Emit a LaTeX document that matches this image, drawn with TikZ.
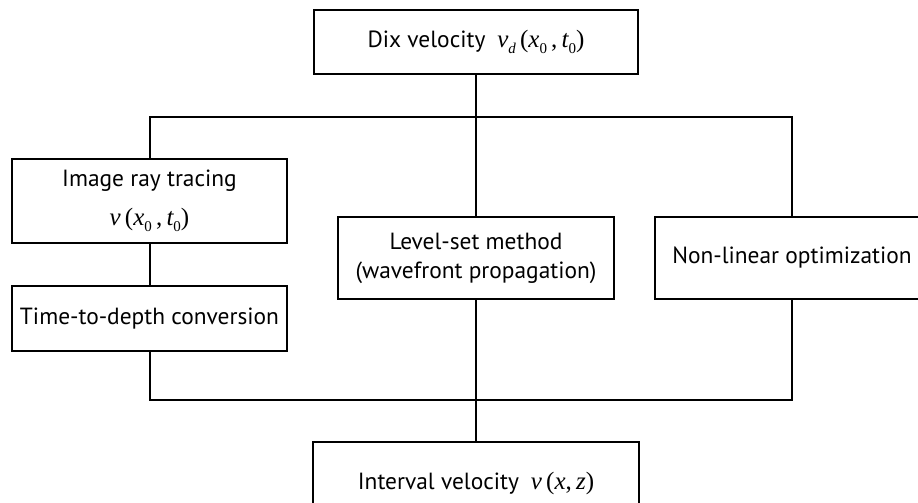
\documentclass[tikz,border=0pt]{standalone}
\usepackage{fontspec}
\setmainfont{PT Sans}
\newfontfamily\tms{Liberation Serif}
\newcommand{\iv}[1]{{\tms\itshape #1}}
\newcommand{\up}[1]{{\tms #1}}
\newcommand{\sbs}[1]{\raisebox{-0.45ex}{\fontsize{15}{15}\selectfont #1}}
\newcommand{\mfont}{\fontsize{25}{28}\selectfont}
\begin{document}
\begin{tikzpicture}[x=1pt,y=-1pt,
  box/.style={draw, line width=2.3pt, inner sep=0pt, outer sep=0pt, align=center,
    font=\fontsize{23.4}{29}\selectfont},
  conn/.style={line width=2.3pt}]
\useasboundingbox (0,0) rectangle (918,503);
\clip (0,0) rectangle (918,503);
\fill[white] (0,0) rectangle (918,503);
\node[box, minimum width=324pt, minimum height=64pt] (dix) at (476,42)
  {Dix velocity\hspace{12pt}{\mfont\iv{v}\sbs{\iv{d}}\,\up{(}\iv{x}\sbs{\up{0}}\,\up{,}\,\iv{t}\sbs{\up{0}}\up{)}}};
\node[box, minimum width=275pt, minimum height=84pt] (irt) at (149.5,201)
  {Image ray tracing\\[10pt]{\mfont\iv{v}\,\up{(}\iv{x}\sbs{\up{0}}\,\up{,}\,\iv{t}\sbs{\up{0}}\up{)}}};
\node[box, minimum width=275pt, minimum height=65pt] (ttd) at (149.5,318.5)
  {Time-to-depth conversion};
\node[box, minimum width=276pt, minimum height=82pt] (lsm) at (476,258)
  {Level-set method\\(wavefront propagation)};
\node[box, minimum width=274pt, minimum height=82pt] (nlo) at (792,258)
  {Non-linear optimization};
\node[box, minimum width=326pt, minimum height=82pt] (ivl) at (476,483)
  {Interval velocity\hspace{12pt}{\mfont\iv{v}\,\up{(}\iv{x}\up{,}\,\iv{z}\up{)}}};
\coordinate (tl) at (150,117);
\coordinate (tr) at (792,117);
\coordinate (bl) at (150,400);
\coordinate (br) at (792,400);
\draw[conn] (dix.south) -- (dix.south |- tl);
\draw[conn] (irt.north -| tl) -- (tl) -- (tr) -- (nlo.north -| tr);
\draw[conn] (dix.south |- tl) -- (lsm.north);
\draw[conn] (irt.south -| tl) -- (ttd.north -| tl);
\draw[conn] (ttd.south -| bl) -- (bl) -- (br) -- (nlo.south -| br);
\draw[conn] (lsm.south) -- (ivl.north);
\end{tikzpicture}
\end{document}
